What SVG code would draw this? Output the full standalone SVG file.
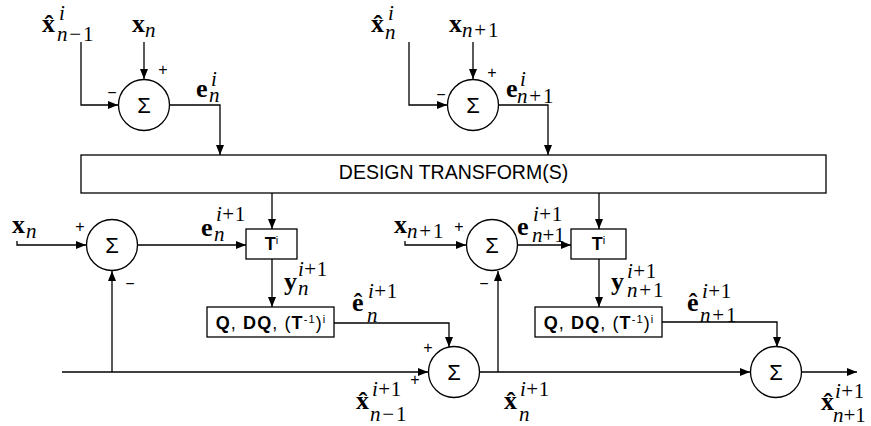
<svg xmlns="http://www.w3.org/2000/svg" width="871" height="426" viewBox="0 0 871 426">
<style>
.ln{fill:none;stroke:#000;stroke-width:1.3}
.bx{fill:#fff;stroke:#000;stroke-width:1.3}
.ci{fill:#fff;stroke:#000;stroke-width:1.3}
.sg{font-family:"Liberation Sans",Arial,sans-serif;font-size:22px;text-anchor:middle}
.pm{font-family:"Liberation Sans",Arial,sans-serif;font-size:16px;text-anchor:middle}
.m{font-family:"Liberation Serif","Times New Roman",serif;font-size:26px;font-weight:bold}
.s{font-size:21px;font-style:italic;font-weight:normal}
.w{letter-spacing:1.8px}
.v{letter-spacing:0.5px}
.u{font-style:normal}
.bt{font-family:"Liberation Sans",Arial,sans-serif;font-size:18px}
.q{letter-spacing:1.1px}
.b{font-weight:bold}
.sup{font-size:11px}
.dt{font-family:"Liberation Sans",Arial,sans-serif;font-size:19.5px;text-anchor:middle}
</style>
<defs>
<marker id="ah" viewBox="0 0 10 8" refX="10" refY="4" markerWidth="10" markerHeight="8" markerUnits="userSpaceOnUse" orient="auto">
<path d="M0,0 L10,4 L0,8 z" fill="#000"/>
</marker>
</defs>
<rect width="871" height="426" fill="#fff"/>

<g id="connectors">
<polyline class="ln" points="81,42 81,105 118,105" marker-end="url(#ah)"/>
<polyline class="ln" points="144,42 144,79" marker-end="url(#ah)"/>
<polyline class="ln" points="170,105 220,105 220,155" marker-end="url(#ah)"/>
<polyline class="ln" points="409,42 409,105 447,105" marker-end="url(#ah)"/>
<polyline class="ln" points="473,42 473,79" marker-end="url(#ah)"/>
<polyline class="ln" points="499,105 548,105 548,155" marker-end="url(#ah)"/>
<polyline class="ln" points="17,241 17,245 86,245" marker-end="url(#ah)"/>
<polyline class="ln" points="138,245 246,245" marker-end="url(#ah)"/>
<polyline class="ln" points="272,193 272,229" marker-end="url(#ah)"/>
<polyline class="ln" points="272,259 272,307" marker-end="url(#ah)"/>
<polyline class="ln" points="334,323 449,323 449,347" marker-end="url(#ah)"/>
<polyline class="ln" points="62,372 428,372" marker-end="url(#ah)"/>
<polyline class="ln" points="112,372 112,271" marker-end="url(#ah)"/>
<polyline class="ln" points="480,372 750,372" marker-end="url(#ah)"/>
<polyline class="ln" points="498,372 498,271" marker-end="url(#ah)"/>
<polyline class="ln" points="405,241 405,245 466,245" marker-end="url(#ah)"/>
<polyline class="ln" points="518,245 571,245" marker-end="url(#ah)"/>
<polyline class="ln" points="599,193 599,229" marker-end="url(#ah)"/>
<polyline class="ln" points="599,259 599,307" marker-end="url(#ah)"/>
<polyline class="ln" points="662,322 777,322 777,347" marker-end="url(#ah)"/>
<polyline class="ln" points="802,372 857,372" marker-end="url(#ah)"/>
</g>

<g id="design">
<rect class="bx" x="81" y="155" width="745" height="38"/>
<text class="dt" x="453.5" y="179">DESIGN TRANSFORM(S)</text>
</g>

<g id="sum1"><circle class="ci" cx="144" cy="105" r="25.5"/><text class="sg" x="144" y="113">Σ</text></g>
<g id="sum2"><circle class="ci" cx="473" cy="105" r="25.5"/><text class="sg" x="473" y="113">Σ</text></g>
<g id="sum3"><circle class="ci" cx="112" cy="245" r="25.5"/><text class="sg" x="112" y="253">Σ</text></g>
<g id="sum4"><circle class="ci" cx="492" cy="245" r="25.5"/><text class="sg" x="492" y="253">Σ</text></g>
<g id="sum5"><circle class="ci" cx="454" cy="372" r="25.5"/><text class="sg" x="454" y="380">Σ</text></g>
<g id="sum6"><circle class="ci" cx="776" cy="372" r="25.5"/><text class="sg" x="776" y="380">Σ</text></g>

<g id="t1"><rect class="bx" x="246" y="229" width="51" height="30"/><text class="bt" x="271.5" y="250" text-anchor="middle"><tspan class="b">T</tspan><tspan class="sup" dy="-6">i</tspan></text></g>
<g id="t2"><rect class="bx" x="571" y="229" width="55" height="30"/><text class="bt" x="598.5" y="250" text-anchor="middle"><tspan class="b">T</tspan><tspan class="sup" dy="-6">i</tspan></text></g>
<g id="q1"><rect class="bx" x="207" y="307" width="127" height="30"/><text class="bt q" x="271" y="329" text-anchor="middle"><tspan class="b">Q</tspan>, <tspan class="b">DQ</tspan>, (<tspan class="b">T</tspan><tspan class="sup" dy="-6">-1</tspan><tspan dy="6">)</tspan><tspan class="sup" dy="-6">i</tspan></text></g>
<g id="q2"><rect class="bx" x="535" y="307" width="127" height="30"/><text class="bt q" x="599" y="329" text-anchor="middle"><tspan class="b">Q</tspan>, <tspan class="b">DQ</tspan>, (<tspan class="b">T</tspan><tspan class="sup" dy="-6">-1</tspan><tspan dy="6">)</tspan><tspan class="sup" dy="-6">i</tspan></text></g>

<g id="signs">
<text class="pm" x="163" y="75">+</text><text class="pm" x="112" y="98">−</text>
<text class="pm" x="492" y="78">+</text><text class="pm" x="441" y="100">−</text>
<text class="pm" x="80" y="232">+</text><text class="pm" x="130" y="289">−</text>
<text class="pm" x="459" y="232">+</text><text class="pm" x="484" y="289">−</text>
<text class="pm" x="428" y="353">+</text><text class="pm" x="415" y="385">+</text>
</g>

<g id="labels">
<text class="m" x="42" y="32">x&#x302;<tspan class="s" x="59" y="20">i</tspan><tspan class="s w" x="57" y="41">n<tspan class="u">−1</tspan></tspan></text>
<text class="m" x="132" y="32">x<tspan class="s" x="145" y="37">n</tspan></text>
<text class="m" x="196" y="97">e<tspan class="s" x="211" y="86">i</tspan><tspan class="s" x="209" y="102">n</tspan></text>
<text class="m" x="371" y="32">x&#x302;<tspan class="s" x="388" y="20">i</tspan><tspan class="s" x="385" y="39">n</tspan></text>
<text class="m" x="449" y="32">x<tspan class="s w" x="462" y="37">n<tspan class="u">+1</tspan></tspan></text>
<text class="m" x="506" y="97">e<tspan class="s" x="520" y="86">i</tspan><tspan class="s w" x="517" y="103">n<tspan class="u">+1</tspan></tspan></text>
<text class="m" x="12" y="233">x<tspan class="s" x="26" y="238">n</tspan></text>
<text class="m" x="201" y="236">e<tspan class="s v" x="216" y="221">i<tspan class="u">+1</tspan></tspan><tspan class="s" x="214" y="241">n</tspan></text>
<text class="m" x="284" y="290">y<tspan class="s v" x="298" y="276">i<tspan class="u">+1</tspan></tspan><tspan class="s" x="298" y="295">n</tspan></text>
<text class="m" x="352" y="311">e&#x302;<tspan class="s v" x="368" y="298">i<tspan class="u">+1</tspan></tspan><tspan class="s" x="367" y="322">n</tspan></text>
<text class="m" x="356" y="409">x&#x302;<tspan class="s v" x="372" y="396">i<tspan class="u">+1</tspan></tspan><tspan class="s w" x="370" y="421">n<tspan class="u">−1</tspan></tspan></text>
<text class="m" x="504" y="409">x&#x302;<tspan class="s v" x="520" y="396">i<tspan class="u">+1</tspan></tspan><tspan class="s" x="519" y="421">n</tspan></text>
<text class="m" x="394" y="233">x<tspan class="s w" x="407" y="238">n<tspan class="u">+1</tspan></tspan></text>
<text class="m" x="517" y="235">e<tspan class="s v" x="533" y="221">i<tspan class="u">+1</tspan></tspan><tspan class="s" x="532" y="242">n<tspan class="u">+1</tspan></tspan></text>
<text class="m" x="611" y="290">y<tspan class="s v" x="627" y="278">i<tspan class="u">+1</tspan></tspan><tspan class="s w" x="627" y="297">n<tspan class="u">+1</tspan></tspan></text>
<text class="m" x="687" y="311">e&#x302;<tspan class="s v" x="702" y="298">i<tspan class="u">+1</tspan></tspan><tspan class="s w" x="700" y="322">n<tspan class="u">+1</tspan></tspan></text>
<text class="m" x="821" y="410">x&#x302;<tspan class="s v" x="835" y="398">i<tspan class="u">+1</tspan></tspan><tspan class="s" x="833" y="422">n<tspan class="u">+1</tspan></tspan></text>
</g>
</svg>
